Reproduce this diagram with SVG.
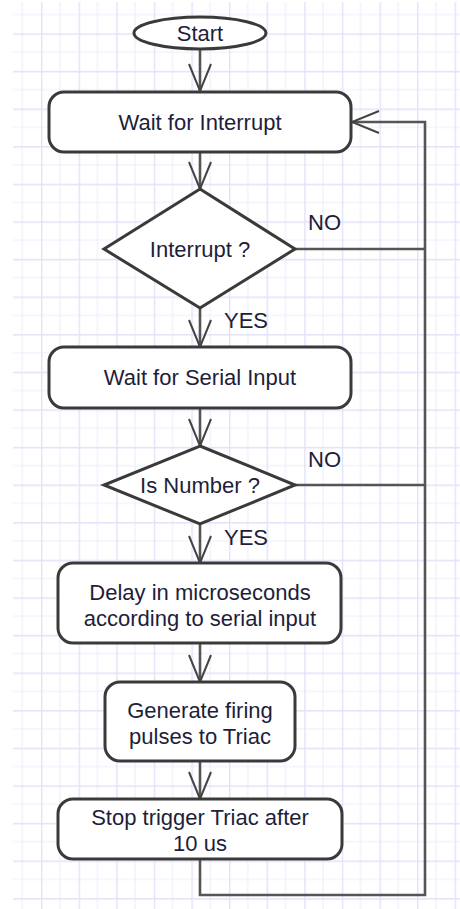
<svg xmlns="http://www.w3.org/2000/svg" width="460" height="909" viewBox="0 0 460 909">
  <style>
    .node { fill: #ffffff; stroke: #3a3a3a; stroke-width: 3; }
    .label { font-family: "Liberation Sans", Arial, sans-serif; font-size: 22px; fill: #1e1e3a; text-anchor: middle; }
    .edge-label { font-family: "Liberation Sans", Arial, sans-serif; font-size: 22px; fill: #1e1e3a; }
    .edge { fill: none; stroke: #555555; stroke-width: 2.6; }
  </style>
  <defs>
    <pattern id="grid" patternUnits="userSpaceOnUse" x="3.4" y="-4.3" width="37.6" height="37.6">
      <path d="M18.8,0 V37.6 M0,18.8 H37.6" stroke="#eeeefd" stroke-width="1.2" fill="none"/>
      <path d="M0.6,0 V37.6 M0,0.6 H37.6" stroke="#e2e2fa" stroke-width="1.6" fill="none"/>
    </pattern>
    <marker id="arrow" markerUnits="userSpaceOnUse" markerWidth="30" markerHeight="26" viewBox="0 0 30 26" refX="28" refY="13" orient="auto">
      <path d="M1,2 L28,13 L1,24" fill="none" stroke="#444444" stroke-width="2"/>
    </marker>
  </defs>

  <!-- background grid -->
  <rect x="0" y="0" width="460" height="909" fill="#ffffff"/>
  <rect x="13" y="2" width="447" height="907" fill="url(#grid)"/>

  <!-- connectors -->
  <g id="connectors">
    <path class="edge" d="M200,50 V91" marker-end="url(#arrow)"/>
    <path class="edge" d="M200,152 V189" marker-end="url(#arrow)"/>
    <path class="edge" d="M200,308 V347" marker-end="url(#arrow)"/>
    <path class="edge" d="M200,408 V446" marker-end="url(#arrow)"/>
    <path class="edge" d="M200,524 V563" marker-end="url(#arrow)"/>
    <path class="edge" d="M200,643 V682" marker-end="url(#arrow)"/>
    <path class="edge" d="M200,761 V799" marker-end="url(#arrow)"/>
    <path class="edge" d="M295,249 H425"/>
    <path class="edge" d="M295,485 H425"/>
    <path class="edge" d="M200,859 V895 H425 V122 H352" marker-end="url(#arrow)"/>
    <text class="edge-label" x="308" y="230">NO</text>
    <text class="edge-label" x="224" y="328">YES</text>
    <text class="edge-label" x="308" y="467">NO</text>
    <text class="edge-label" x="224" y="545">YES</text>
  </g>

  <g id="start">
    <ellipse class="node" cx="200" cy="33" rx="66" ry="16"/>
    <text class="label" x="200" y="41">Start</text>
  </g>

  <g id="wait-interrupt">
    <rect class="node" x="49" y="92" width="302" height="60" rx="15"/>
    <text class="label" x="200" y="130">Wait for Interrupt</text>
  </g>

  <g id="is-interrupt">
    <polygon class="node" points="200,189 295,249 200,308 104,249"/>
    <text class="label" x="200" y="257">Interrupt ?</text>
  </g>

  <g id="wait-serial">
    <rect class="node" x="49" y="347" width="302" height="61" rx="15"/>
    <text class="label" x="200" y="385">Wait for Serial Input</text>
  </g>

  <g id="is-number">
    <polygon class="node" points="200,446 295,485 200,524 104,485"/>
    <text class="label" x="200" y="493">Is Number ?</text>
  </g>

  <g id="delay">
    <rect class="node" x="58" y="563" width="283" height="80" rx="15"/>
    <text class="label" x="200" y="600">Delay in microseconds</text>
    <text class="label" x="200" y="626">according to serial input</text>
  </g>

  <g id="generate">
    <rect class="node" x="105" y="682" width="190" height="79" rx="15"/>
    <text class="label" x="200" y="718">Generate firing</text>
    <text class="label" x="200" y="744">pulses to Triac</text>
  </g>

  <g id="stop-trigger">
    <rect class="node" x="58" y="799" width="284" height="60" rx="15"/>
    <text class="label" x="200" y="825">Stop trigger Triac after</text>
    <text class="label" x="200" y="851">10 us</text>
  </g>
</svg>
